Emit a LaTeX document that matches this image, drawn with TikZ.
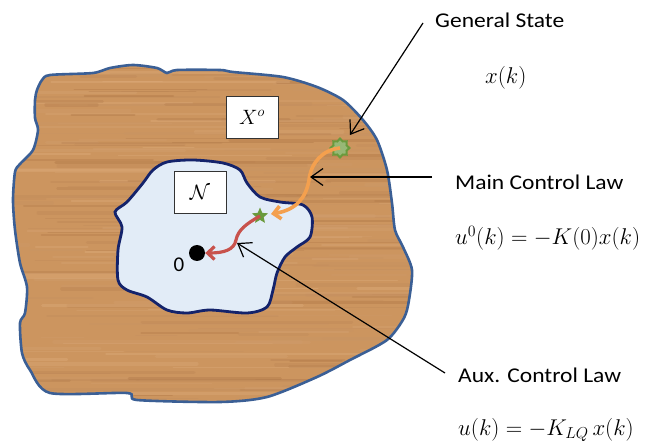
\documentclass[tikz,border=0pt]{standalone}
\usepackage{fontspec}
\usetikzlibrary{arrows.meta,shapes.geometric}
\newfontfamily\labelfont{Carlito}
\definecolor{woodbase}{HTML}{CC955F}
\definecolor{wooddark}{HTML}{9A5E2E}
\definecolor{woodlight}{HTML}{E2B282}
\definecolor{outerblue}{HTML}{3B5F95}
\definecolor{innerfill}{HTML}{E2ECF7}
\definecolor{innerborder}{HTML}{14236B}
\definecolor{orangeC}{HTML}{F4A04E}
\definecolor{redC}{HTML}{C8524C}
\definecolor{starG}{HTML}{6A9A3C}
\tikzset{
  lbl/.style={font=\labelfont\fontsize{21}{25}\selectfont, xscale=1.12, anchor=west, inner sep=0pt},
  eqn/.style={font=\fontsize{20.74}{25}\selectfont, scale=1.1, anchor=west, inner sep=0pt},
  setbox/.style={draw=black!80, fill=white, line width=0.7pt, minimum width=52pt, minimum height=42pt, font=\fontsize{20}{23}\selectfont},
  pointer/.style={draw=black, line width=1.2pt, -{Straight Barb[length=12pt,width=17pt]}},
}
\begin{document}
\begin{tikzpicture}[x=1pt,y=-1pt]
\useasboundingbox (0,0) rectangle (646,441);
\def\outerpath{plot[smooth cycle, tension=0.45] coordinates {
 (37,90) (42,80) (50,75) (93,73) (110,68) (133,65) (157,68) (167,73) (177,70) (220,70)
 (233,72) (283,77) (317,87) (343,100) (363,120) (377,140) (387,170) (392,203) (395,230)
 (403,247) (412,270) (409,300) (404,318) (387,340) (350,360) (317,377) (267,397) (220,402)
 (137,400) (127,393) (50,393) (30,370) (22,353) (20,323) (25,313) (27,287) (20,263)
 (15,230) (13,200) (15,172) (20,164) (33,150) (38,130) (35,118) (35,100)}}
\def\innerpath{plot[smooth cycle, tension=0.5] coordinates {
 (153,170) (167,162) (193,160) (223,163) (240,170) (247,183) (260,197) (280,202)
 (303,205) (312,217) (310,237) (297,247) (285,257) (277,273) (273,290) (267,307)
 (247,313) (210,310) (187,313) (167,310) (147,297) (127,290) (118,280) (118,250)
 (122,227) (115,212) (127,202) (143,183)}}
% wood texture
\begin{scope}
  \clip \outerpath;
  \fill[woodbase] (0,40) rectangle (430,420);
  \pgfmathsetseed{11}
  \foreach \i in {1,...,280} {
    \pgfmathsetmacro\yy{55+rnd*355}
    \pgfmathsetmacro\xa{-40+rnd*420}
    \pgfmathsetmacro\ll{40+rnd*240}
    \pgfmathsetmacro\ww{0.8+rnd*3}
    \pgfmathtruncatemacro\cc{rnd*80}
    \draw[line width=\ww pt, wooddark!\cc!woodlight, opacity=0.35, line cap=round] (\xa,\yy) -- ++(\ll,0);
  }
\end{scope}
\draw[outerblue, line width=2.6pt] \outerpath;
\fill[innerfill] \innerpath;
\draw[innerborder, line width=2.8pt] \innerpath;
% set labels
\node[setbox] (xo) at (252,117) {$X^{o}$};
\node[setbox] (nset) at (200,192) {$\mathcal{N}$};
% states
\node[star, star points=8, star point ratio=1.35, minimum size=19pt, inner sep=0pt, fill=starG!70!white, draw=starG, line width=2pt] (gear) at (340,148) {};
\node[star, star points=5, star point ratio=2.2, minimum size=17pt, inner sep=0pt, fill=starG] (star) at (260,216) {};
\node[circle, fill=black, minimum size=16pt, inner sep=0pt] (origin) at (197,253) {};
\node[font=\labelfont\fontsize{21}{23}\selectfont, inner sep=0pt] (zero) at (179,265) {0};
% trajectories
\draw[orangeC, line width=3.6pt, -{Straight Barb[length=7pt,width=13pt]}]
  (gear.center) .. controls (322,150) and (311,163) .. (309,180)
  .. controls (306,198) and (296,210) .. (271,214);
\draw[redC, line width=3.2pt, -{Straight Barb[length=7pt,width=13pt]}]
  (star.center) .. controls (246,224) and (238,230) .. (236,240)
  .. controls (234,250) and (224,253) .. (origin.east);
% labels
\node[lbl] (gs) at (435,20) {General State};
\node[eqn] (xk) at (485,78) {$x(k)$};
\node[lbl] (mcl) at (455,182) {Main Control Law};
\node[eqn] (u0) at (455,238) {$u^{0}(k)=-K(0)x(k)$};
\node[lbl] (acl) at (458,375) {Aux. Control Law};
\node[eqn] (ulq) at (458,430) {$u(k)=-K_{LQ}\,x(k)$};
% pointers
\coordinate (gsS) at (423,23);
\coordinate (gsT) at (350,135);
\coordinate (mcS) at (432,177);
\coordinate (mcT) at (310,177);
\coordinate (acS) at (445,373);
\coordinate (acT) at (237,243);
\draw[pointer] (gsS) -- (gsT);
\draw[pointer] (mcS) -- (mcT);
\draw[pointer] (acS) -- (acT);
\end{tikzpicture}
\end{document}
